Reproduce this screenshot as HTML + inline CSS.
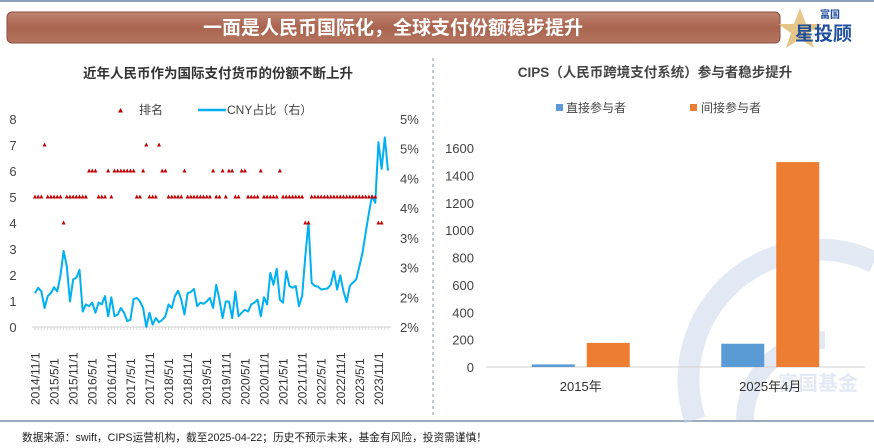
<!DOCTYPE html>
<html><head><meta charset="utf-8">
<style>
html,body{margin:0;padding:0;background:#fff;}
body{width:874px;height:448px;position:relative;overflow:hidden;font-family:"Liberation Sans","Noto Sans CJK SC",sans-serif;}
svg{position:absolute;left:0;top:0;}
</style></head>
<body>
<svg width="874" height="448" viewBox="0 0 874 448">
  <line x1="0" y1="1" x2="874" y2="1" stroke="#8aa0bc" stroke-width="2"/>
  <defs>
    <linearGradient id="bg" x1="0" y1="0" x2="0" y2="1">
      <stop offset="0" stop-color="#c08470"/><stop offset="0.5" stop-color="#a9644f"/><stop offset="1" stop-color="#b57560"/>
    </linearGradient>
  </defs>
  <rect x="7" y="12" width="773" height="31" rx="5" fill="url(#bg)" stroke="#8a5040" stroke-width="1"/>
  <text x="393" y="34" text-anchor="middle" font-size="19" font-weight="bold" fill="#fff" font-family="'Liberation Sans','Noto Sans CJK SC',sans-serif">一面是人民币国际化，全球支付份额稳步提升</text>
  <g>
    <polygon points="800,8 806,24 822,24 809,33 814,48 800,39 786,48 791,33 778,24 794,24" fill="#e0b86a" opacity="0.8"/>
    <text x="820" y="18" font-size="10" font-weight="bold" fill="#1f4e9c" font-family="'Liberation Sans','Noto Sans CJK SC',sans-serif">富国</text>
    <text x="795" y="40" font-size="19" font-weight="bold" fill="#1f4e9c" font-family="'Liberation Sans','Noto Sans CJK SC',sans-serif">星投顾</text>
  </g>
  <line x1="433" y1="58" x2="433" y2="415" stroke="#8a9ab0" stroke-dasharray="3,3"/>
  <line x1="0" y1="421" x2="874" y2="421" stroke="#7f8fa8" stroke-width="1.5"/>
  <text x="22" y="441" font-size="11" fill="#222" font-family="'Liberation Sans','Noto Sans CJK SC',sans-serif" textLength="465" lengthAdjust="spacingAndGlyphs">数据来源：swift，CIPS运营机构，截至2025-04-22；历史不预示未来，基金有风险，投资需谨慎！</text>

  <!-- watermark -->
  <g opacity="0.5">
    <path d="M 695 420 A 130 130 0 0 1 874 262" fill="none" stroke="#c9d5ea" stroke-width="22"/>
    <path d="M 745 420 A 80 80 0 0 1 825 340" fill="none" stroke="#c9d5ea" stroke-width="18"/>
    <text x="778" y="390" font-size="20" font-weight="bold" fill="#c9d5ea" font-family="'Liberation Sans','Noto Sans CJK SC',sans-serif">富国基金</text>
  </g>

  <g id="left"></g>
  <g id="right"></g>
</svg>
<script>
const NS="http://www.w3.org/2000/svg";
const FONT="'Liberation Sans','Noto Sans CJK SC',sans-serif";
function mk(tag,attrs,parent,text){const e=document.createElementNS(NS,tag);for(const k in attrs)e.setAttribute(k,attrs[k]);if(text!==undefined)e.textContent=text;parent.appendChild(e);return e;}

// ---------- Left chart data ----------
const shareValues=[2.07,2.16,2.10,1.82,2.02,2.07,2.17,2.10,2.36,2.78,2.52,1.93,2.30,2.33,2.46,1.76,1.88,1.85,1.91,1.74,1.91,1.88,2.02,1.68,2.00,1.68,1.71,1.82,1.74,1.60,1.62,1.97,1.99,1.93,1.82,1.50,1.74,1.54,1.65,1.58,1.62,1.68,1.88,1.82,2.02,2.11,1.96,1.71,2.07,2.09,2.14,1.85,1.91,1.89,1.93,1.99,1.82,2.21,1.96,1.65,1.93,1.93,1.65,2.10,1.68,1.74,1.79,1.76,1.88,1.91,1.96,1.68,2.00,1.88,2.41,2.21,2.48,1.96,1.91,2.44,2.19,2.16,2.19,1.85,2.02,2.69,3.26,2.24,2.19,2.18,2.13,2.14,2.15,2.21,2.44,2.13,2.37,2.10,1.92,2.19,2.25,2.30,2.52,2.75,3.09,3.42,3.71,3.59,4.61,4.16,4.69,4.13];
const rankValues=[5,5,5,7,5,5,5,5,5,4,5,5,5,5,5,5,5,6,6,6,5,5,5,6,5,6,6,6,6,6,6,6,5,5,6,7,5,5,5,7,6,6,5,5,5,5,5,6,5,5,5,5,5,5,5,5,6,5,5,6,5,6,6,5,5,6,6,5,5,5,5,6,5,5,5,5,5,6,5,5,5,5,5,5,5,4,4,5,5,5,5,5,5,5,5,5,5,5,5,5,5,5,5,5,5,5,5,5,4,4,null,null];
const startYear=2014, startMonth=11;
const leftTicks=[0,1,2,3,4,5,6,7,8];
const rightTicks=[1.5,2.0,2.5,3.0,3.5,4.0,4.5,5.0];
const rightTickLabels=["2%","2%","3%","3%","4%","4%","5%","5%"];

const L=document.getElementById('left');
const lx0=35, dx=3.18, ly0=327, ly1=119;
const xM=i=>lx0+i*dx;
const yL=v=>ly0-(v-0)/(8-0)*(ly0-ly1);
const yR=v=>ly0-(v-1.5)/(5.0-1.5)*(ly0-ly1);

mk('text',{x:218,y:78,'text-anchor':'middle','font-size':13.5,'font-weight':'bold',fill:'#333','font-family':FONT,},L,'近年人民币作为国际支付货币的份额不断上升');
// legend
const lg=mk('g',{},L);
mk('polygon',{points:'120.5,108 123,112.5 118,112.5',fill:'#c00000',},lg);
mk('text',{x:139,y:114,'font-size':12,fill:'#444','font-family':FONT,},lg,'排名');
mk('line',{x1:198,y1:110,x2:226,y2:110,stroke:'#00b0f0','stroke-width':2.5,},lg);
mk('text',{x:227,y:114,'font-size':12,fill:'#444','font-family':FONT,},lg,'CNY占比（右）');

leftTicks.forEach(v=>{
  const t=mk('text',{x:13,y:yL(v)+5,'text-anchor':'middle','font-size':13,fill:'#444','font-family':FONT},L,String(v));
  
  
});
rightTicks.forEach((v,i)=>{
  const t=mk('text',{x:400,y:yR(v)+5,'font-size':13,fill:'#444','font-family':FONT},L,rightTickLabels[i]);
  
  
});
// x axis
const n=shareValues.length;
const ax=mk('line',{x1:xM(0)-3,y1:ly0,x2:xM(n-1)+3,y2:ly0,stroke:'#d0d0d0','stroke-width':1},L);


for(let i=0;i<n;i++){
  const tk=mk('line',{x1:xM(i),y1:ly0,x2:xM(i),y2:ly0+3,stroke:'#d0d0d0','stroke-width':0.8},L);
  
  
  if(i%6===0){
    const m=startMonth-1+i, y=startYear+Math.floor(m/12), mo=m%12+1;
    const lbl=mk('text',{x:0,y:0,'font-size':12,fill:'#333','font-family':FONT,transform:`translate(${xM(i)+4.5},${ly0+78}) rotate(-90)`},L,`${y}/${mo}/1`);
    
    
  }
}
// share line
let d='';
shareValues.forEach((v,i)=>{d+=(i?'L':'M')+xM(i).toFixed(2)+','+yR(v).toFixed(2);});
const pl=mk('path',{d:d,fill:'none',stroke:'#00b0f0','stroke-width':2,'stroke-linejoin':'round'},L);


// rank markers
rankValues.forEach((v,i)=>{
  if(v===null)return;
  const x=xM(i),y=yL(v);
  const p=mk('polygon',{points:`${x},${y-2.5} ${x+2},${y+1.5} ${x-2},${y+1.5}`,fill:'#c00000'},L);
  
  
});

// ---------- Right chart data ----------
const barCategories=["2015年","2025年4月"];
const directValues=[19,170];
const indirectValues=[176,1497];
const barTicks=[0,200,400,600,800,1000,1200,1400,1600];
const R=document.getElementById('right');
const ry0=367, ry1=148, rx0=486, rx1=865;
const yB=v=>ry0-v/1600*(ry0-ry1);
const catW=(rx1-rx0)/barCategories.length;
mk('text',{x:655,y:77,'text-anchor':'middle','font-size':13.5,'font-weight':'bold',fill:'#444','font-family':FONT,},R,'CIPS（人民币跨境支付系统）参与者稳步提升');
const rl=mk('g',{},R);
mk('rect',{x:556,y:104,width:7,height:7,fill:'#5b9bd5',},rl);
mk('text',{x:566,y:112,'font-size':12,fill:'#444','font-family':FONT,},rl,'直接参与者');
mk('rect',{x:690,y:104,width:7,height:7,fill:'#ed7d31',},rl);
mk('text',{x:701,y:112,'font-size':12,fill:'#444','font-family':FONT,},rl,'间接参与者');
barTicks.forEach(v=>{
  const t=mk('text',{x:474,y:yB(v)+5,'text-anchor':'end','font-size':13,fill:'#444','font-family':FONT},R,String(v));
  
  
});
const bax=mk('line',{x1:rx0,y1:ry0,x2:rx1,y2:ry0,stroke:'#d0d0d0'},R);


barCategories.forEach((c,i)=>{
  const cx=rx0+catW*(i+0.5);
  const bw=43, gap=12;
  const b1=mk('rect',{x:cx-gap/2-bw,y:yB(directValues[i]),width:bw,height:ry0-yB(directValues[i]),fill:'#5b9bd5'},R);
  
  
  const b2=mk('rect',{x:cx+gap/2,y:yB(indirectValues[i]),width:bw,height:ry0-yB(indirectValues[i]),fill:'#ed7d31'},R);
  
  
  const l=mk('text',{x:cx,y:ry0+24,'text-anchor':'middle','font-size':13,fill:'#333','font-family':FONT},R,c);
  
  
});
</script>
</body></html>
